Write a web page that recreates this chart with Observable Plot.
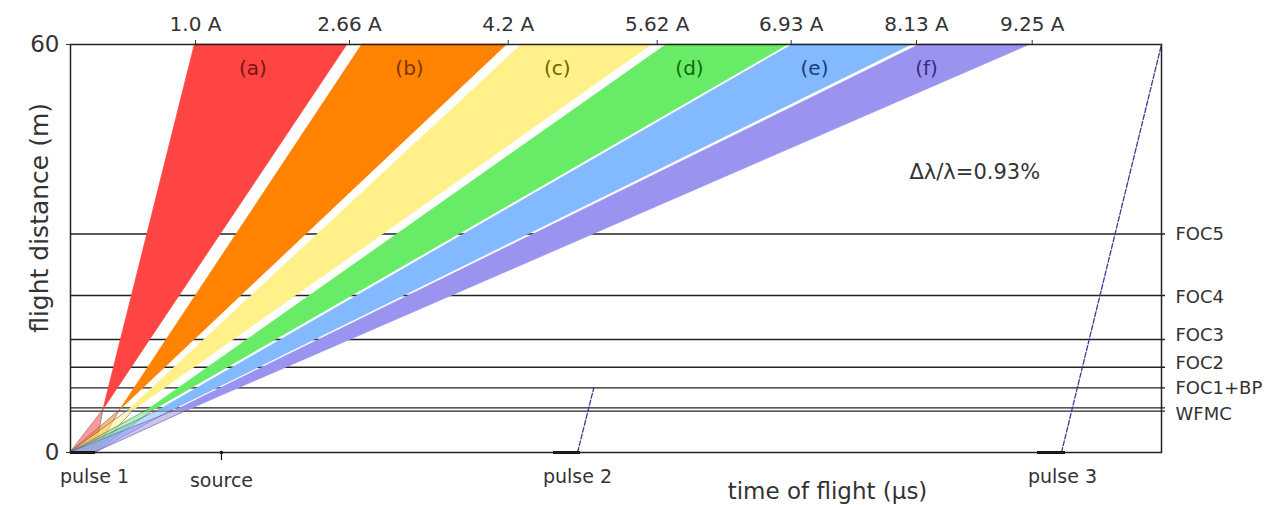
<!DOCTYPE html>
<html><head><meta charset="utf-8">
<script src="https://cdn.jsdelivr.net/npm/d3@7"></script>
<script src="https://cdn.jsdelivr.net/npm/@observablehq/plot@0.6"></script>
<style>body{margin:0;background:#fff;} svg{display:block}</style>
</head><body><div id="chart"></div>
<script>
// ---- data (time in µs, distance in m) ----
const wedgeNames = ["(a)","(b)","(c)","(d)","(e)","(f)"];
const wedgeColors = ["#ff4444","#ff8200","#fff08a","#68ec68","#82b9ff","#9a94f0"];
const wedgeLabelColors = ["#7a1212","#7a3600","#6b6400","#0b6b0b","#1a3a7a","#3a2b7a"];
const wfmcDistance = 6.3;
const topDistance = 60;
const wedgeBottomLeft  = [4870, 7380, 8710, 11510, 13280, 15790];
const wedgeBottomRight = [4870, 7380, 9440, 12400, 15200, 17560];
const wedgeTopLeft  = [18370, 43090, 66660, 88060, 106690, 125430];
const wedgeTopRight = [40880, 64440, 85840, 105960, 124210, 141670];
const wedgeLabelT = [26930, 50030, 71820, 91350, 109790, 126320];
const wedgeLabelL = 56.5;

const lambdaLabels = ["1.0 A","2.66 A","4.2 A","5.62 A","6.93 A","8.13 A","9.25 A"];
const lambdaTickT  = [18450, 41170, 64590, 86580, 106350, 124840, 141920];

const chopperNames = ["FOC5","FOC4","FOC3","FOC2","FOC1+BP","WFMC"];
const chopperLabelL = [32.16, 22.84, 17.2, 13.19, 9.51, 5.69];
const chopperLineL = [32.13, 23.09, 16.62, 12.54, 9.49, 6.57, 6.07];

const pulseNames = ["pulse 1","pulse 2","pulse 3"];
const pulseStart = [0, 71280, 142700];
const pulseEnd   = [3700, 75260, 146830];
const pulseLabelT = [3540, 74820, 146390];
const sourceT = 22280;

const pulse2LineT = [74820, 77220];
const pulse2LineL = [0, 9.49];
const pulse3LineT = [146240, 161000];
const pulse3LineL = [0, 60];

const xMax = 161000;
const yMax = 60;
const ratioText = "Δλ/λ=0.93%";
const ratioT = 123810, ratioL = 41.2;

// ---- tables built from arrays ----
const wedges = wedgeNames.flatMap((name, i) => [
  {name, i, L: wfmcDistance, left: wedgeBottomLeft[i], right: wedgeBottomRight[i]},
  {name, i, L: topDistance, left: wedgeTopLeft[i], right: wedgeTopRight[i]}
]);
const fans = wedgeNames.flatMap((name, i) => [
  {name, i, L: 0, left: pulseStart[0], right: pulseEnd[0]},
  {name, i, L: wfmcDistance, left: wedgeBottomLeft[i], right: wedgeBottomRight[i]}
]);
const pulseLines = [
  ...pulse2LineT.map((t, j) => ({k: 2, t, L: pulse2LineL[j]})),
  ...pulse3LineT.map((t, j) => ({k: 3, t, L: pulse3LineL[j]}))
];
const lambdaMap = new Map(lambdaTickT.map((t, i) => [t, lambdaLabels[i]]));

const chart = Plot.plot({
  width: 1276, height: 505,
  marginLeft: 70, marginRight: 115, marginTop: 44, marginBottom: 53,
  style: {fontFamily: "DejaVu Sans, sans-serif", fontSize: "18px", color: "#333", background: "#fff"},
  x: {domain: [0, xMax], axis: null},
  y: {domain: [0, yMax], axis: null},
  marks: [
    Plot.ruleY(chopperLineL, {stroke: "#222", strokeWidth: 1.3, insetRight: -4}),
    Plot.areaX(fans, {y: "L", x1: "left", x2: "right", z: "name", fill: d => wedgeColors[d.i], fillOpacity: 0.55, stroke: "#5a5070", strokeOpacity: 0.6, strokeWidth: 0.9}),
    Plot.areaX(wedges, {y: "L", x1: "left", x2: "right", z: "name", fill: d => wedgeColors[d.i], stroke: d => wedgeColors[d.i], strokeWidth: 0.8}),
    Plot.text(wedgeNames, {x: (d, i) => wedgeLabelT[i], y: wedgeLabelL, text: d => d, fill: (d, i) => wedgeLabelColors[i], fontSize: 20}),
    Plot.line(pulseLines, {x: "t", y: "L", z: "k", stroke: "#3c3c96", strokeWidth: 1.3, strokeDasharray: "5,2"}),
    Plot.ruleY(pulseNames, {y: 0, x1: (d, i) => pulseStart[i], x2: (d, i) => pulseEnd[i], stroke: "#111", strokeWidth: 3}),
    Plot.ruleX([sourceT], {y1: 0, y2: -1.2, stroke: "#111", strokeWidth: 1.2}),
    Plot.dot([sourceT], {x: d => d, y: 0, r: 1.8, fill: "#111"}),
    Plot.text(pulseNames, {x: (d, i) => pulseLabelT[i], y: 0, dy: 24, text: d => d, fill: "#333", fontSize: 19}),
    Plot.text(["source"], {x: sourceT, y: 0, dy: 28, text: d => d, fill: "#333", fontSize: 19}),
    Plot.text(chopperNames, {x: xMax, y: (d, i) => chopperLabelL[i], dx: 14, textAnchor: "start", text: d => d, fill: "#333", fontSize: 18}),
    Plot.text([ratioText], {x: ratioT, y: ratioL, textAnchor: "start", text: d => d, fill: "#333", fontSize: 21}),
    Plot.axisX({anchor: "top", ticks: lambdaTickT, tickFormat: d => lambdaMap.get(d), tickSize: 5, tickPadding: 9, fontSize: 20, label: null, color: "#333"}),
    Plot.axisY({anchor: "left", ticks: [0, 60], tickSize: 4, tickPadding: 7, fontSize: 23, label: null, color: "#333"}),
    Plot.text(["flight distance (m)"], {frameAnchor: "left", y: 34.5, dx: -31, rotate: -90, textAnchor: "middle", text: d => d, fill: "#333", fontSize: 25}),
    Plot.text(["time of flight (µs)"], {x: 111710, y: 0, dy: 39, text: d => d, fill: "#333", fontSize: 23}),
    Plot.frame({stroke: "#222", strokeWidth: 1.5})
  ]
});
document.getElementById("chart").appendChild(chart);
</script>
</body></html>
